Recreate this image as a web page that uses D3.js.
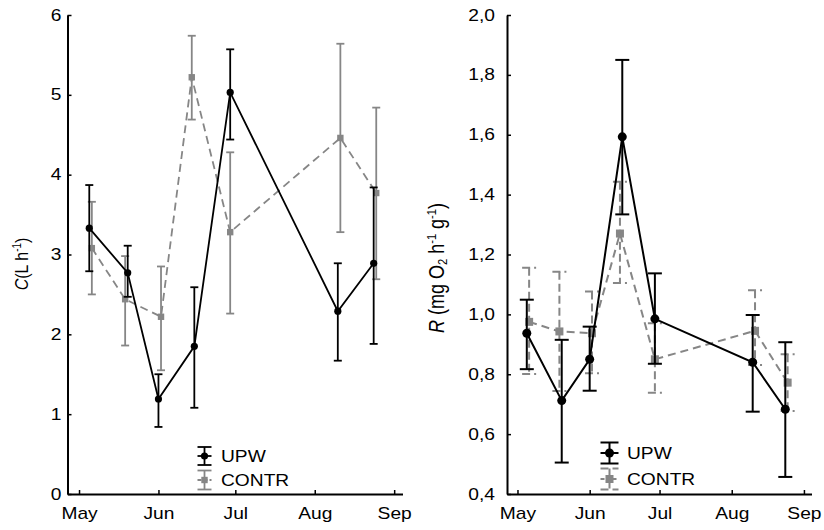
<!DOCTYPE html>
<html>
<head>
<meta charset="utf-8">
<script src="https://cdn.jsdelivr.net/npm/d3@7"></script>
<style>
  body { margin: 0; background: #fff; }
  svg { display: block; font-family: "Liberation Sans", Arial, sans-serif; }
</style>
</head>
<body>
<svg id="chart" width="824" height="530"></svg>
<script>
// sampling dates (same for both panels)
var upwDates = ["2001-05-05", "2001-05-20", "2001-06-01", "2001-06-15", "2001-06-29", "2001-08-10", "2001-08-24"];
var contrDates = ["2001-05-06", "2001-05-19", "2001-06-02", "2001-06-14", "2001-06-29", "2001-08-11", "2001-08-25"];
var monthTicks = ["2001-05-01", "2001-06-01", "2001-07-01", "2001-08-01", "2001-09-01"];

// left panel: clearance rate C (L h-1)
var cUpw     = [3.33, 2.77, 1.19, 1.85, 5.03, 2.29, 2.89];
var cUpwHi   = [3.87, 3.11, 1.50, 2.59, 5.57, 2.89, 3.84];
var cUpwLo   = [2.79, 2.47, 0.84, 1.08, 4.44, 1.67, 1.88];
var cContr   = [3.08, 2.44, 2.22, 5.22, 3.28, 4.46, 3.77];
var cContrHi = [3.66, 2.98, 2.85, 5.74, 4.28, 5.64, 4.84];
var cContrLo = [2.50, 1.86, 1.55, 4.69, 2.26, 3.28, 2.69];
var cTicks = [0, 1, 2, 3, 4, 5, 6];

// right panel: respiration R (mg O2 h-1 g-1)
var rUpw     = [0.937, 0.712, 0.850, 1.593, 0.985, 0.840, 0.683];
var rUpwHi   = [1.049, 0.915, 0.959, 1.850, 1.137, 0.998, 0.907];
var rUpwLo   = [0.817, 0.505, 0.745, 1.334, 0.835, 0.675, 0.457];
var rContr   = [0.975, 0.943, 0.937, 1.270, 0.850, 0.945, 0.772];
var rContrHi = [1.156, 1.142, 1.076, 1.443, 0.970, 1.081, 0.867];
var rContrLo = [0.801, 0.744, 0.803, 1.105, 0.738, 0.831, 0.677];
var rTicks = [0.4, 0.6, 0.8, 1.0, 1.2, 1.4, 1.6, 1.8, 2.0];

var parse = d3.timeParse("%Y-%m-%d");
var svg = d3.select("#chart");
var stretch = 1.2;   // glyphs in the original are wider than tall
var grey = "#868686";

function series(dates, v, hi, lo) {
  return dates.map(function(d, i) {
    return { date: parse(d), v: v[i], hi: hi[i], lo: lo[i] };
  });
}

function drawPanel(p) {
  var x = d3.scaleTime()
      .domain([new Date(2001, 3, 26, 12), new Date(2001, 8, 4, 6)])
      .range([p.left, p.right]);
  var y = d3.scaleLinear().domain(p.yDomain).range([494, 15]);
  var g = svg.append("g");

  // axes
  var xAxis = g.append("g")
      .attr("transform", "translate(0,494)")
      .call(d3.axisBottom(x)
        .tickValues(monthTicks.map(parse))
        .tickFormat(d3.timeFormat("%b"))
        .tickSizeInner(-4).tickSizeOuter(0).tickPadding(14));
  var yAxis = g.append("g")
      .attr("transform", "translate(" + p.left + ",0)")
      .call(d3.axisLeft(y)
        .tickValues(p.yTicks)
        .tickFormat(p.yFormat)
        .tickSizeInner(-4).tickSizeOuter(0).tickPadding(p.yPad));
  [xAxis, yAxis].forEach(function(a) {
    a.select(".domain").attr("stroke", "#000").attr("stroke-width", 2);
    a.selectAll(".tick line").attr("stroke", "#000").attr("stroke-width", 1.5);
    a.selectAll(".tick text").attr("font-size", 16).attr("fill", "#000")
      .attr("font-family", "Liberation Sans, Arial, sans-serif");
  });
  xAxis.selectAll(".tick text").attr("transform", "scale(" + stretch + ",1)");
  yAxis.selectAll(".tick text")
    .attr("x", -p.yPad / stretch)
    .attr("transform", "scale(" + stretch + ",1)");

  // y title
  var t = g.append("text")
      .attr("transform", "translate(" + p.titleX + "," + p.titleY + ") scale(" + stretch + ",1) rotate(-90)")
      .attr("text-anchor", "middle")
      .attr("font-size", p.titleSize)
      .attr("dy", "0.35em");
  p.title(t, p.titleSize);

  // series: CONTR below, UPW on top
  p.series.forEach(function(s) {
    var line = d3.line().x(function(d) { return x(d.date); }).y(function(d) { return y(d.v); });
    var sg = g.append("g");
    sg.append("path")
      .datum(s.data)
      .attr("fill", "none")
      .attr("stroke", s.color)
      .attr("stroke-width", s.lw)
      .attr("stroke-dasharray", s.dash || null)
      .attr("d", line);

    var bars = sg.selectAll(".bar").data(s.data).enter().append("g")
      .attr("stroke", s.color)
      .attr("stroke-width", s.bw)
      .attr("stroke-dasharray", s.barDash || null);
    bars.append("line")
      .attr("x1", function(d) { return x(d.date); })
      .attr("x2", function(d) { return x(d.date); })
      .attr("y1", function(d) { return y(d.hi); })
      .attr("y2", function(d) { return y(d.lo); });
    ["hi", "lo"].forEach(function(k) {
      bars.append("line")
        .attr("x1", function(d) { return x(d.date) - s.cap; })
        .attr("x2", function(d) { return x(d.date) + s.cap; })
        .attr("y1", function(d) { return y(d[k]); })
        .attr("y2", function(d) { return y(d[k]); });
    });

    drawMarker(sg.selectAll(".pt").data(s.data).enter(), s,
      function(d) { return x(d.date); }, function(d) { return y(d.v); });
  });

  // legend
  p.series.slice().reverse().forEach(function(s, i) {
    var lg = p.legend[i];
    var lgG = g.append("g");
    var b = lgG.append("g").attr("stroke", s.color).attr("stroke-width", s.bw)
      .attr("stroke-dasharray", s.barDash || null);
    b.append("line").attr("x1", lg.x).attr("x2", lg.x).attr("y1", lg.y - lg.h).attr("y2", lg.y + lg.h);
    b.append("line").attr("x1", lg.x - lg.w).attr("x2", lg.x + lg.w).attr("y1", lg.y - lg.h).attr("y2", lg.y - lg.h);
    b.append("line").attr("x1", lg.x - lg.w).attr("x2", lg.x + lg.w).attr("y1", lg.y + lg.h).attr("y2", lg.y + lg.h);
    lgG.append("line").attr("x1", lg.x - lg.w).attr("x2", lg.x + lg.w).attr("y1", lg.y).attr("y2", lg.y)
      .attr("stroke", s.color).attr("stroke-width", s.lw).attr("stroke-dasharray", s.dash ? "4,2" : null);
    drawMarker(lgG.selectAll(".pt").data([0]).enter(), s, function() { return lg.x; }, function() { return lg.y; });
    lgG.append("text")
      .attr("transform", "translate(" + lg.tx + "," + lg.y + ") scale(" + stretch + ",1)")
      .attr("dy", "0.36em")
      .attr("font-size", 16)
      .text(s.name);
  });
}

function drawMarker(sel, s, fx, fy) {
  if (s.shape === "circle") {
    sel.append("circle")
      .attr("cx", fx).attr("cy", fy)
      .attr("r", s.size)
      .attr("fill", s.color);
  } else {
    sel.append("rect")
      .attr("x", function(d) { return fx(d) - s.size; })
      .attr("y", function(d) { return fy(d) - s.size; })
      .attr("width", s.size * 2).attr("height", s.size * 2)
      .attr("fill", s.color);
  }
}

function supText(t, parts, size) {
  parts.forEach(function(pt) {
    var ts = t.append("tspan").text(pt.s);
    if (pt.italic) ts.attr("font-style", "italic");
    if (pt.sup) ts.attr("font-size", size * 0.62).attr("baseline-shift", "55%");
    if (pt.sub) ts.attr("font-size", size * 0.62).attr("baseline-shift", "-25%");
  });
}

drawPanel({
  left: 67.5, right: 402.5,
  yDomain: [0, 6], yTicks: cTicks, yFormat: d3.format("d"), yPad: 6,
  titleX: 21, titleY: 264, titleSize: 16,
  title: function(t, size) {
    supText(t, [{ s: "C", italic: true }, { s: "(L h" }, { s: "-1", sup: true }, { s: ")" }], size);
  },
  series: [
    { name: "CONTR", data: series(contrDates, cContr, cContrHi, cContrLo), color: grey,
      shape: "square", size: 3.2, lw: 1.8, bw: 1.8, cap: 4, dash: "8,5" },
    { name: "UPW", data: series(upwDates, cUpw, cUpwHi, cUpwLo), color: "#000",
      shape: "circle", size: 3.6, lw: 1.8, bw: 1.8, cap: 4 }
  ],
  legend: [
    { x: 204.5, y: 456, h: 9, w: 7, tx: 221 },
    { x: 204.5, y: 480, h: 9.5, w: 7, tx: 221 }
  ]
});

drawPanel({
  left: 507, right: 811.5,
  yDomain: [0.4, 2.0], yTicks: rTicks, yFormat: function(d) { return d3.format(".1f")(d).replace(".", ","); }, yPad: 12,
  titleX: 436, titleY: 268, titleSize: 18,
  title: function(t, size) {
    supText(t, [{ s: "R", italic: true }, { s: " (mg O" }, { s: "2", sub: true }, { s: " h" },
      { s: "-1", sup: true }, { s: " g" }, { s: "-1", sup: true }, { s: ")" }], size);
  },
  series: [
    { name: "CONTR", data: series(contrDates, rContr, rContrHi, rContrLo), color: grey,
      shape: "square", size: 4, lw: 2, bw: 2, cap: 7, dash: "8,5", barDash: "8,4" },
    { name: "UPW", data: series(upwDates, rUpw, rUpwHi, rUpwLo), color: "#000",
      shape: "circle", size: 4.5, lw: 2, bw: 2, cap: 7 }
  ],
  legend: [
    { x: 609.5, y: 453, h: 10.5, w: 9, tx: 627 },
    { x: 609.5, y: 479, h: 10.5, w: 9, tx: 627 }
  ]
});
</script>
</body>
</html>
